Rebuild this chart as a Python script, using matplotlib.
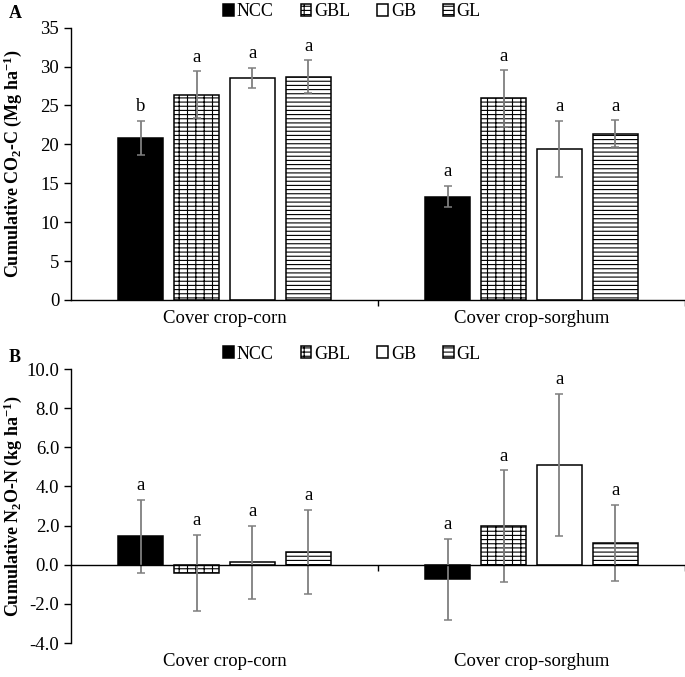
import numpy as np
import matplotlib
matplotlib.use("Agg")
import matplotlib.pyplot as plt
import matplotlib.transforms as mtransforms

plt.rcParams["font.family"] = "Liberation Serif"
plt.rcParams["mathtext.fontset"] = "custom"
plt.rcParams["mathtext.rm"] = "Liberation Serif"
plt.rcParams["mathtext.bf"] = "Liberation Serif:bold"
plt.rcParams["mathtext.it"] = "Liberation Serif:italic"
plt.rcParams["axes.unicode_minus"] = False
plt.rcParams["hatch.linewidth"] = 0.8

# data
groups = ["Cover crop-corn", "Cover crop-sorghum"]
treatments = ["NCC", "GBL", "GB", "GL"]

# panel A: cumulative CO2-C (Mg/ha), one list per treatment, values per group
co2_ncc = [20.8, 13.3]
co2_gbl = [26.4, 25.9]
co2_gb = [28.5, 19.4]
co2_gl = [28.7, 21.4]
co2_err_ncc = [2.2, 1.4]
co2_err_gbl = [3.0, 3.6]
co2_err_gb = [1.3, 3.6]
co2_err_gl = [2.1, 1.7]
co2_letters = [["b", "a"], ["a", "a"], ["a", "a"], ["a", "a"]]

# panel B: cumulative N2O-N (kg/ha)
n2o_ncc = [1.45, -0.75]
n2o_gbl = [-0.43, 1.98]
n2o_gb = [0.12, 5.1]
n2o_gl = [0.66, 1.12]
n2o_err_ncc = [1.88, 2.08]
n2o_err_gbl = [1.95, 2.84]
n2o_err_gb = [1.88, 3.64]
n2o_err_gl = [2.15, 1.93]
n2o_letters = [["a", "a"], ["a", "a"], ["a", "a"], ["a", "a"]]

facecolors = ["black", "white", "white", "white"]
hatches = [None, "----||", None, "----"]

FS = 13.5


def draw_panel(ax, values, errors, letters, ylim, yticks, fmt, ylabel, zero_axis):
    x = np.arange(len(groups))
    width = 0.145
    step = 0.182
    handles = []
    for j, name in enumerate(treatments):
        pos = x + (j - 1.5) * step
        b = ax.bar(pos, values[j], width, color=facecolors[j], edgecolor="black",
                   linewidth=1.1, hatch=hatches[j], label=name)
        handles.append(b)
        ax.errorbar(pos, values[j], yerr=errors[j], fmt="none", ecolor="#7f7f7f",
                    elinewidth=1.3, capsize=3, capthick=1.1)
        for k in range(len(groups)):
            top = values[j][k] + errors[j][k]
            ax.annotate(letters[j][k], (pos[k], top), xytext=(0, 7),
                        textcoords="offset points", ha="center", va="baseline",
                        fontsize=FS)

    ax.set_xlim(-0.5, 1.5)
    ax.set_ylim(*ylim)
    ax.set_yticks(yticks)
    ax.set_yticklabels([fmt.format(v) for v in yticks])
    ax.set_xticks([0.5, 1.5])
    ax.set_xticklabels([])
    ax.tick_params(axis="y", direction="out", length=5, width=1, labelsize=FS)
    ax.tick_params(axis="x", direction="out", length=4, width=1)
    ax.spines["top"].set_visible(False)
    ax.spines["right"].set_visible(False)
    if zero_axis:
        ax.spines["bottom"].set_position(("data", 0))
    for s in ["left", "bottom"]:
        ax.spines[s].set_linewidth(1.0)

    trans = mtransforms.blended_transform_factory(ax.transData, ax.transAxes)
    for i, g in enumerate(groups):
        ax.annotate(g, (i, 0), xycoords=trans, xytext=(0, -13),
                    textcoords="offset points", ha="center", va="center",
                    fontsize=FS)

    ax.set_ylabel(ylabel, fontsize=13, fontweight="bold")
    ax.yaxis.set_label_coords(-0.077, 0.5)
    return handles


fig = plt.figure(figsize=(6.85, 6.77), dpi=100)
axA = fig.add_axes([71 / 685, 1 - 300 / 677, 614 / 685, 272.3 / 677])
axB = fig.add_axes([71 / 685, 1 - 643 / 677, 614 / 685, 274 / 677])

hA = draw_panel(axA, [co2_ncc, co2_gbl, co2_gb, co2_gl],
                [co2_err_ncc, co2_err_gbl, co2_err_gb, co2_err_gl],
                co2_letters, (0, 35), list(range(0, 36, 5)), "{:.0f}",
                r"Cumulative CO$_\mathbf{2}$-C (Mg ha$^\mathbf{-1}$)", False)
hB = draw_panel(axB, [n2o_ncc, n2o_gbl, n2o_gb, n2o_gl],
                [n2o_err_ncc, n2o_err_gbl, n2o_err_gb, n2o_err_gl],
                n2o_letters, (-4, 10), list(np.arange(-4, 10.1, 2)), "{:.1f}",
                r"Cumulative N$_\mathbf{2}$O-N (kg ha$^\mathbf{-1}$)", True)

for handles, yc in [(hA, 1 - 12 / 677), (hB, 1 - 354 / 677)]:
    fig.legend(handles, treatments, loc="center", bbox_to_anchor=(352 / 685, yc),
               ncol=4, frameon=False, fontsize=13, handlelength=0.6,
               handleheight=0.6, handletextpad=0.15, columnspacing=1.5)

fig.text(9 / 685, 1 - 14 / 677, "A", fontsize=13, fontweight="bold", va="center")
fig.text(9 / 685, 1 - 358 / 677, "B", fontsize=13, fontweight="bold", va="center")

fig.savefig("out.png", dpi=100)
